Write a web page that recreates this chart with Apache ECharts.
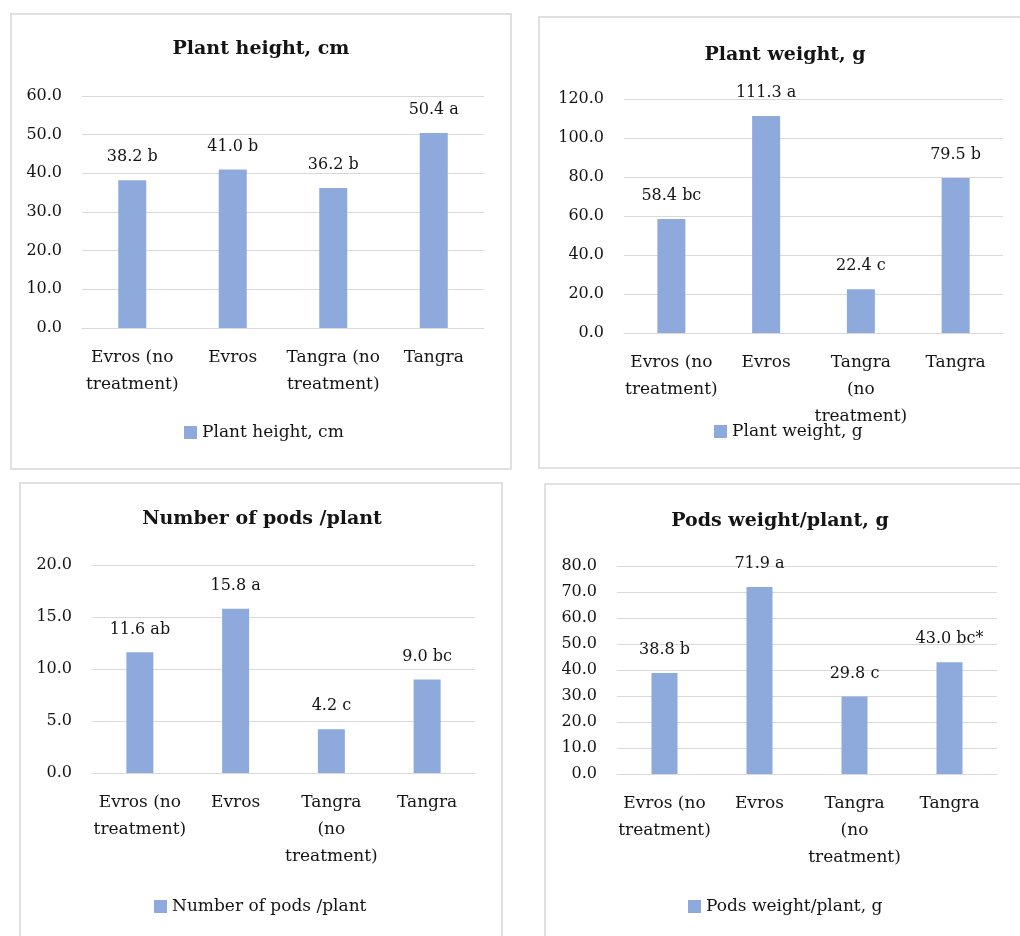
<!DOCTYPE html>
<html>
<head>
<meta charset="utf-8">
<script src="https://cdn.jsdelivr.net/npm/echarts@6/dist/echarts.min.js"></script>
<style>
  html, body { margin: 0; padding: 0; background: #fff; width: 1020px; height: 936px; overflow: hidden; position: relative; }
  .frame { position: absolute; box-sizing: border-box; border: 2px solid #e0e0e0; }
  .chart { position: absolute; }
</style>
</head>
<body>
<div class="frame" style="left:10px;top:13px;width:502px;height:457px"></div>
<div class="frame" style="left:538px;top:16px;width:500px;height:453px"></div>
<div class="frame" style="left:19px;top:482px;width:484px;height:470px"></div>
<div class="frame" style="left:544px;top:483px;width:500px;height:470px"></div>

<div id="c1" class="chart" style="left:10px;top:13px;width:502px;height:457px"></div>
<div id="c2" class="chart" style="left:538px;top:16px;width:500px;height:453px"></div>
<div id="c3" class="chart" style="left:19px;top:482px;width:484px;height:470px"></div>
<div id="c4" class="chart" style="left:544px;top:483px;width:500px;height:470px"></div>

<script>
// Treatments (category axis), two ways of wrapping the long names
const categoriesWide = ['Evros (no\ntreatment)', 'Evros', 'Tangra (no\ntreatment)', 'Tangra'];
const categoriesNarrow = ['Evros (no\ntreatment)', 'Evros', 'Tangra\n(no\ntreatment)', 'Tangra'];

// Plant height, cm
const heightValues = [38.2, 41.0, 36.2, 50.4];
const heightLetters = ['b', 'b', 'b', 'a'];
const heightTicks = { min: 0, max: 60, interval: 10 };

// Plant weight, g
const weightValues = [58.4, 111.3, 22.4, 79.5];
const weightLetters = ['bc', 'a', 'c', 'b'];
const weightTicks = { min: 0, max: 120, interval: 20 };

// Number of pods per plant
const podsValues = [11.6, 15.8, 4.2, 9.0];
const podsLetters = ['ab', 'a', 'c', 'bc'];
const podsTicks = { min: 0, max: 20, interval: 5 };

// Pods weight per plant, g
const podsWeightValues = [38.8, 71.9, 29.8, 43.0];
const podsWeightLetters = ['b', 'a', 'c', 'bc*'];
const podsWeightTicks = { min: 0, max: 80, interval: 10 };

const FONT = '"DejaVu Serif", "Liberation Serif", serif';
const TEXT = '#141414';
const GRIDLINE = '#d9d9d9';
const BAR = '#8eaadc';

function panelOption(p) {
  return {
    animation: false,
    textStyle: { fontFamily: FONT },
    graphic: [{
      type: 'text',
      x: p.titleX, y: p.titleY,
      style: {
        text: p.title,
        fontFamily: FONT, fontSize: 19, fontWeight: 'bold',
        fill: TEXT, align: 'center', verticalAlign: 'middle'
      }
    }],
    legend: {
      data: [p.title],
      left: p.legendX, top: p.legendY - 9,
      padding: 0,
      icon: 'rect', itemWidth: 13, itemHeight: 13,
      textStyle: { fontFamily: FONT, fontSize: 17, color: TEXT }
    },
    grid: { left: p.grid[0], top: p.grid[1], width: p.grid[2], height: p.grid[3], containLabel: false },
    xAxis: {
      type: 'category',
      data: p.categories,
      axisLine: { lineStyle: { color: GRIDLINE, width: 1 } },
      axisTick: { show: false },
      axisLabel: {
        interval: 0, margin: 16,
        fontFamily: FONT, fontSize: 17, lineHeight: 27, color: TEXT, align: 'center'
      }
    },
    yAxis: {
      type: 'value',
      min: p.ticks.min, max: p.ticks.max, interval: p.ticks.interval,
      axisLine: { show: false },
      axisTick: { show: false },
      splitLine: { lineStyle: { color: GRIDLINE, width: 1 } },
      axisLabel: {
        margin: 20, fontFamily: FONT, fontSize: 16, color: TEXT,
        formatter: v => v.toFixed(1)
      }
    },
    series: [{
      name: p.title,
      type: 'bar',
      data: p.values,
      barWidth: p.barWidth,
      itemStyle: { color: BAR },
      label: {
        show: true, position: 'top', distance: 15,
        fontFamily: FONT, fontSize: 16, lineHeight: 16, color: TEXT,
        formatter: d => d.value.toFixed(1) + ' ' + p.letters[d.dataIndex]
      }
    }]
  };
}

const panels = [
  { id: 'c1', title: 'Plant height, cm', categories: categoriesWide, values: heightValues, letters: heightLetters,
    ticks: heightTicks, grid: [72, 83, 402, 232], barWidth: 28, titleX: 251, titleY: 36, legendX: 174, legendY: 420 },
  { id: 'c2', title: 'Plant weight, g', categories: categoriesNarrow, values: weightValues, letters: weightLetters,
    ticks: weightTicks, grid: [86, 83, 379, 234], barWidth: 28, titleX: 247, titleY: 39, legendX: 176, legendY: 416 },
  { id: 'c3', title: 'Number of pods /plant', categories: categoriesNarrow, values: podsValues, letters: podsLetters,
    ticks: podsTicks, grid: [73, 83, 383, 208], barWidth: 27, titleX: 243, titleY: 37, legendX: 135, legendY: 425 },
  { id: 'c4', title: 'Pods weight/plant, g', categories: categoriesNarrow, values: podsWeightValues, letters: podsWeightLetters,
    ticks: podsWeightTicks, grid: [73, 83, 380, 208], barWidth: 26, titleX: 236, titleY: 38, legendX: 144, legendY: 424 }
];

panels.forEach(p => {
  const chart = echarts.init(document.getElementById(p.id), null, { renderer: 'canvas' });
  chart.setOption(panelOption(p));
});
</script>
</body>
</html>
